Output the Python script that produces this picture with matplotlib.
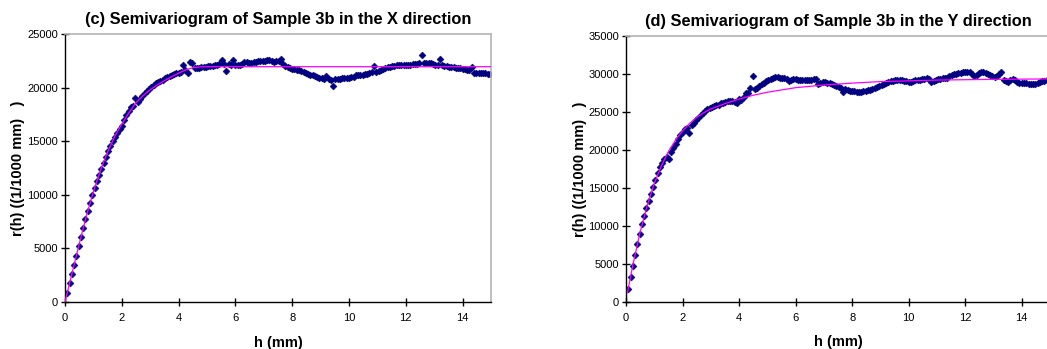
import numpy as np
import matplotlib
matplotlib.use("Agg")
import matplotlib.pyplot as plt

plt.rcParams["font.family"] = ["Liberation Sans", "DejaVu Sans"]

# Lag spacing of the experimental semivariogram (mm)
lag_step = 0.08

# Experimental semivariogram, X direction
gamma_x = [
    860, 1730, 2590, 3460, 4320, 5180, 6050, 6900, 7750, 8500,
    9250, 9950, 10650, 11280, 11850, 12420, 12980, 13550, 14070, 14570,
    15020, 15420, 15800, 16120, 16450, 16950, 17400, 17780, 18200, 18250,
    19050, 18700, 18950, 19180, 19450, 19680, 19880, 20050, 20230, 20400,
    20530, 20640, 20750, 20860, 20960, 21060, 21180, 21300, 21400, 21380,
    21450, 22100, 21600, 21350, 22350, 22300, 21850, 21820, 21860, 21880,
    21920, 21960, 22000, 22040, 22060, 22100, 22130, 22170, 22620, 22200,
    21540, 22170, 22150, 22580, 22100, 22110, 22150, 22200, 22350, 22380,
    22300, 22280, 22350, 22420, 22450, 22470, 22480, 22500, 22530, 22560,
    22470, 22430, 22450, 22500, 22640, 22200, 22050, 21900, 21800, 21760,
    21720, 21670, 21620, 21550, 21480, 21400, 21300, 21220, 21140, 21050,
    20970, 20910, 20870, 20840, 21070, 20780, 20750, 20160, 20770, 20800,
    20830, 20860, 20880, 20900, 20930, 20960, 21000, 21180, 21150, 21160,
    21190, 21230, 21300, 21380, 21420, 22040, 21500, 21580, 21660, 21740,
    21820, 21900, 21950, 22000, 22050, 22090, 22100, 22100, 22090, 22100,
    22110, 22130, 22170, 22200, 22230, 22280, 23020, 22300, 22280, 22270,
    22260, 22240, 22150, 22100, 22640, 22150, 22060, 22000, 21960, 21930,
    21900, 21870, 21830, 21790, 21750, 21720, 21660, 21600, 21900, 21400,
    21360, 21340, 21330, 21350, 21320, 21280, 21270,
]

# Experimental semivariogram, Y direction
gamma_y = [
    1700, 3250, 4750, 6200, 7600, 9000, 10300, 11300, 12350, 13350,
    14250, 15100, 16000, 16950, 17700, 18350, 18850, 19050, 18850, 19700,
    20250, 20800, 21450, 21950, 22400, 22700, 22950, 22250, 23300, 23550,
    23900, 24250, 24650, 24900, 25100, 25330, 25550, 25700, 25810, 25880,
    25980, 26120, 26250, 26330, 26430, 26500, 26480, 26350, 26200, 26750,
    26600, 27000, 27550, 27450, 28150, 29700, 27980, 28150, 28400, 28640,
    28850, 29080, 29200, 29400, 29520, 29560, 29540, 29520, 29480, 29420,
    29340, 29100, 29150, 29280, 29300, 29260, 29220, 29210, 29200, 29210,
    29220, 29210, 29280, 29340, 28700, 28850, 28980, 28950, 28860, 28780,
    28680, 28550, 28420, 28300, 28150, 27600, 28050, 27950, 27800, 27740,
    27700, 27680, 27670, 27690, 27730, 27770, 27850, 27960, 28060, 28160,
    28270, 28380, 28520, 28680, 28830, 28950, 29050, 29100, 29150, 29200,
    29210, 29160, 29080, 29030, 28990, 29000, 29080, 29150, 29190, 29220,
    29300, 29400, 29430, 29300, 29000, 29080, 29200, 29330, 29380, 29420,
    29430, 29500, 29720, 29850, 29950, 30050, 30120, 30180, 30220, 30230,
    30220, 30200, 30000, 29700, 29900, 30180, 30220, 30200, 30120, 30050,
    29900, 29700, 29650, 29700, 29950, 30200, 29150, 29050, 28990, 29150,
    29340, 29200, 28950, 28880, 28820, 28780, 28760, 28720, 28680, 28690,
    28750, 28850, 28950, 29050, 29120, 29150, 29150,
]

# Fitted model curves (h in mm, gamma)
model_x_h = [0, 0.25, 0.5, 0.75, 1.0, 1.25, 1.5, 1.75, 2.0, 2.25, 2.5,
             2.75, 3.0, 3.25, 3.5, 3.75, 4.0, 4.25, 4.5, 4.75, 5.0, 15.0]
model_x_g = [0, 2700, 5400, 8000, 10300, 12300, 14000, 15450, 16600, 17650,
             18600, 19250, 19800, 20250, 20650, 21000, 21350, 21650, 21850,
             21930, 21950, 21950]

model_y_h = [0.05, 0.25, 0.5, 0.75, 1.0, 1.25, 1.5, 1.75, 2.0, 2.25, 2.5,
             2.75, 3.0, 3.5, 4.0, 4.5, 5.0, 5.5, 6.0, 7.0, 8.0, 9.0, 10.0,
             11.0, 12.0, 13.0, 15.0]
model_y_g = [1200, 5000, 9200, 12700, 15600, 17900, 19800, 21300, 22500,
             23500, 24300, 24900, 25400, 26100, 26700, 27200, 27600, 27900,
             28200, 28550, 28800, 29000, 29100, 29200, 29250, 29300, 29350]

titles = ["(c) Semivariogram of Sample 3b in the X direction",
          "(d) Semivariogram of Sample 3b in the Y direction"]
y_max = [25000, 35000]
x_ticks = [0, 2, 4, 6, 8, 10, 12, 14]

W, H = 1047, 349
fig = plt.figure(figsize=(W / 100, H / 100), dpi=100)

axes_px = [(65, 34, 426, 268), (626, 36, 424, 266)]  # left, top, width, height
ylabel_x = [-0.094, -0.092]

datasets = [(gamma_x, model_x_h, model_x_g), (gamma_y, model_y_h, model_y_g)]

for i, (gam, mh, mg) in enumerate(datasets):
    l, t, w, h = axes_px[i]
    ax = fig.add_axes([l / W, (H - t - h) / H, w / W, h / H])
    lags = lag_step * np.arange(1, len(gam) + 1)

    ax.plot(lags, gam, linestyle="none", marker="D", markersize=3.5,
            color="#000080", markeredgewidth=0.4, zorder=2, clip_on=True)
    ax.plot(mh, mg, color="#ff00ff", linewidth=0.9, zorder=3)

    ax.set_xlim(0, 15)
    ax.set_ylim(0, y_max[i])
    ax.set_xticks(x_ticks)
    ax.set_yticks(np.arange(0, y_max[i] + 1, 5000))

    for side in ("left", "bottom"):
        ax.spines[side].set_color("black")
        ax.spines[side].set_linewidth(1.0)
    for side in ("top", "right"):
        ax.spines[side].set_color("#b4b4b4")
        ax.spines[side].set_linewidth(1.2)

    ax.tick_params(axis="both", direction="inout", length=6, width=1.0,
                   labelsize=8, colors="black")
    ax.tick_params(axis="y", pad=2)
    ax.tick_params(axis="x", pad=5)

    ax.set_title(titles[i], fontsize=11.8, fontweight="bold", pad=7)
    ax.set_xlabel("h (mm)", fontsize=10.5, fontweight="bold")
    ax.xaxis.set_label_coords(0.5, -0.125)
    ax.set_ylabel("r(h) ((1/1000 mm)   )", fontsize=10.5, fontweight="bold")
    ax.yaxis.set_label_coords(ylabel_x[i], 0.5)

fig.savefig("out.png", dpi=100)
